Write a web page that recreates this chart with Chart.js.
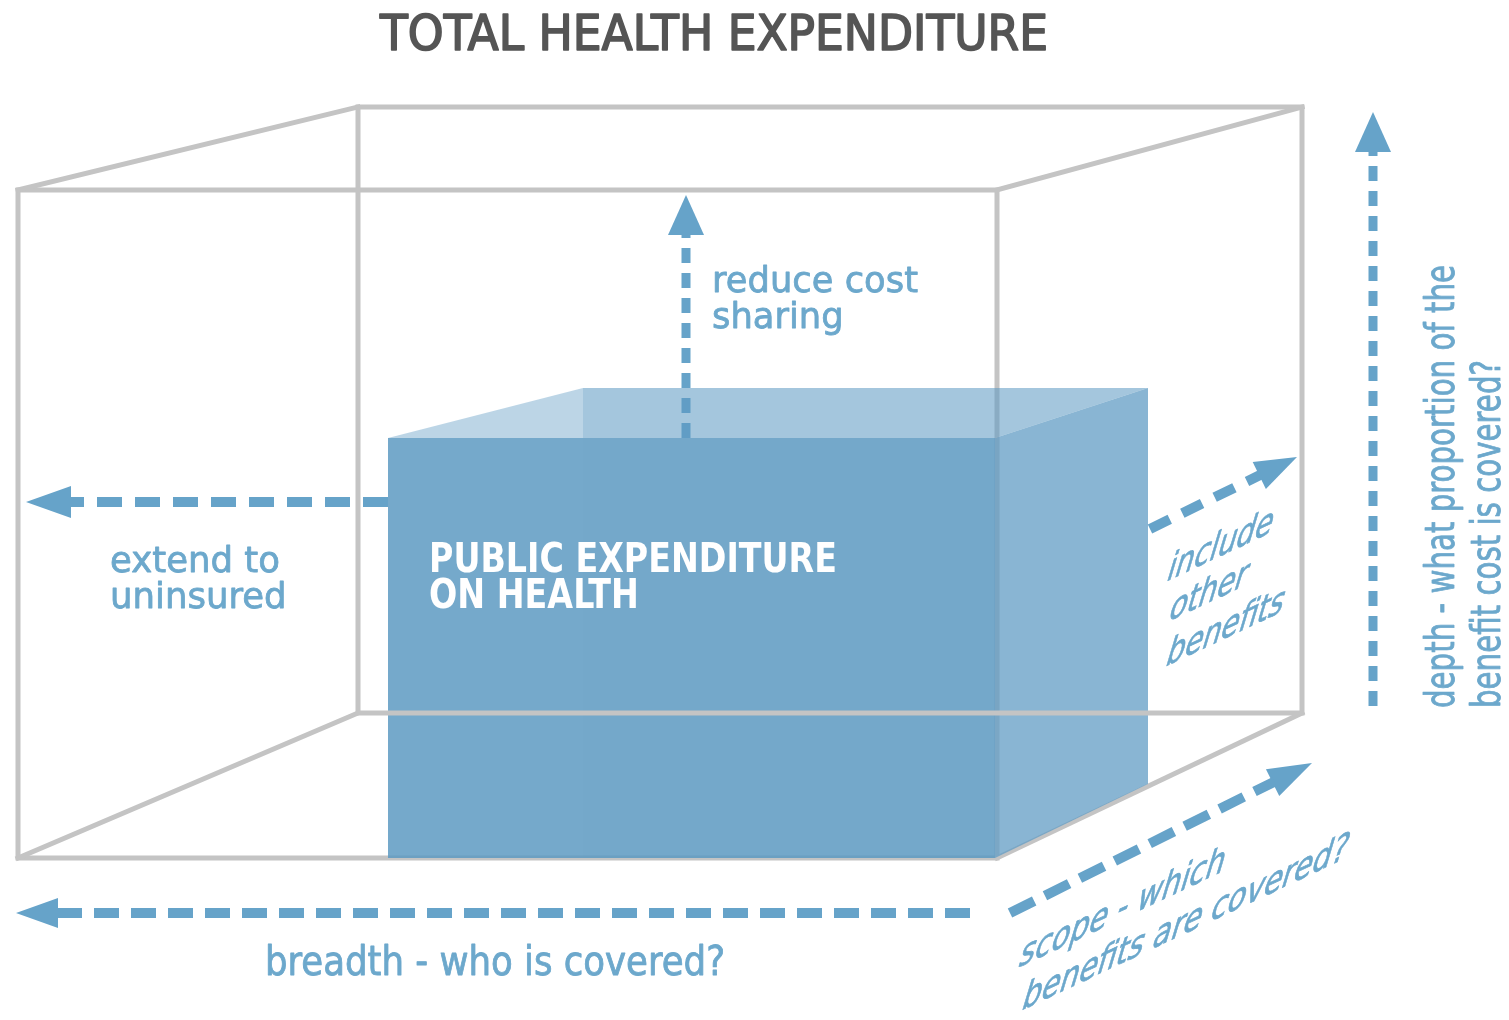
<!DOCTYPE html>
<html>
<head>
<meta charset="utf-8">
<title>Total health expenditure</title>
<script src="https://cdn.jsdelivr.net/npm/chart.js@4.4.1/dist/chart.umd.min.js"></script>
<style>
  html, body { margin: 0; padding: 0; background: #fff; overflow: hidden; }
  canvas { display: block; }
</style>
</head>
<body>
<canvas id="cube" width="1509" height="1020"></canvas>
<script>
// ---------- data (diagram units = picture pixels) ----------
const titleText     = 'TOTAL HEALTH EXPENDITURE';
const costText      = ['reduce cost', 'sharing'];
const uninsuredText = ['extend to', 'uninsured'];
const publicText    = ['PUBLIC EXPENDITURE', 'ON HEALTH'];
const benefitsText  = ['include', 'other', 'benefits'];
const breadthText   = ['breadth - who is covered?'];
const scopeText     = ['scope - which', 'benefits are covered?'];
const depthText     = ['depth - what proportion of the', 'benefit cost is covered?'];

// outer cube corners: top-left, top-right, bottom-right, bottom-left
const cubeFront = [[18, 190], [997, 190], [997, 858], [18, 858]];
const cubeBack  = [[358, 107], [1302, 107], [1302, 713], [358, 713]];

// public expenditure block faces
const boxFront   = [[388, 438], [995, 438], [995, 858], [388, 858]];
const boxShade   = [[583, 438], [995, 438], [995, 858], [583, 858]];
const boxTopNear = [[388, 438], [583, 388], [583, 438]];
const boxTopFar  = [[583, 388], [1148, 388], [995, 438], [583, 438]];
const boxSide    = [[995, 438], [1148, 388], [1148, 784], [995, 858]];
const boxSideLow = [[995, 713], [1148, 713], [1148, 784], [995, 858]];

// arrows: [start, tip]
const arrowCost      = [[686, 438], [686, 195]];
const arrowUninsured = [[388, 502], [26, 502]];
const arrowBenefits  = [[1150, 529], [1297, 457]];
const arrowBreadth   = [[970, 913], [16, 913]];
const arrowScope     = [[1010, 913], [1312, 763]];
const arrowDepth     = [[1373, 706], [1373, 112]];

// ---------- helpers ----------
const GRAY = '#c4c4c4';
const BLUE = '#66a3c9';
const TEXT_BLUE = '#6ca8cc';
const COND = "'DejaVu Sans Condensed', 'DejaVu Sans', sans-serif";
const REG = "'DejaVu Sans', Verdana, sans-serif";

const pts = (arr) => arr.map(([x, y]) => ({ x, y }));
const closed = (arr) => pts([...arr, arr[0]]);

function edge(data, color = GRAY, width = 5) {
  return { data, borderColor: color, borderWidth: width, showLine: true, fill: false,
           pointRadius: 0, borderCapStyle: 'square', borderJoinStyle: 'miter' };
}
function face(corners, color) {
  return { data: pts(corners), backgroundColor: color, borderColor: 'transparent', borderWidth: 0,
           showLine: true, fill: 'shape', pointRadius: 0 };
}
function arrow(a, head, dash, width) {
  const [[x0, y0], [x1, y1]] = a;
  const len = Math.hypot(x1 - x0, y1 - y0);
  const ux = (x1 - x0) / len, uy = (y1 - y0) / len;
  const bx = x1 - ux * head.len, by = y1 - uy * head.len;
  const px = -uy * head.w / 2, py = ux * head.w / 2;
  return [
    { data: pts([[x0, y0], [bx + ux * 2, by + uy * 2]]), borderColor: BLUE, borderWidth: width,
      borderDash: dash, borderCapStyle: 'butt', showLine: true, fill: false, pointRadius: 0 },
    face([[x1, y1], [bx + px, by + py], [bx - px, by - py]], BLUE)
  ];
}

// ---------- datasets (draw order matters) ----------
const datasets = [
  edge(closed(cubeBack)),
  face(boxFront, 'rgba(93,154,194,0.85)'),
  face(boxShade, 'rgba(40,100,150,0.04)'),
  face(boxTopNear, 'rgba(93,154,194,0.41)'),
  face(boxTopFar, 'rgba(93,154,194,0.56)'),
  face(boxSide, 'rgba(93,154,194,0.73)'),
  face(boxSideLow, 'rgba(255,255,255,0.1)'),
  ...cubeFront.map((p, i) => edge(pts([p, cubeBack[i]]))),
  edge(closed(cubeFront)),
  ...arrow(arrowCost, { len: 40, w: 36 }, [15, 10], 9),
  ...arrow(arrowUninsured, { len: 45, w: 32 }, [25, 13], 10),
  ...arrow(arrowBenefits, { len: 42, w: 30 }, [22, 14], 10),
  ...arrow(arrowBreadth, { len: 42, w: 30 }, [25, 12], 10),
  ...arrow(arrowScope, { len: 44, w: 30 }, [27, 12], 10),
  ...arrow(arrowDepth, { len: 40, w: 36 }, [15, 10], 9)
];

// ---------- text layout ----------
const labels = [
  { lines: [titleText], at: [[380, 50]], size: 50, family: COND, fit: 668, color: '#555555', stroke: 1.6 },
  { lines: costText, at: [[712, 292], [712, 328]], size: 36, family: REG, fit: 206, color: TEXT_BLUE, stroke: 0.8 },
  { lines: uninsuredText, at: [[110, 572], [110, 608]], size: 36, family: REG, fit: 170, color: TEXT_BLUE, stroke: 0.8 },
  { lines: publicText, at: [[429, 572], [429, 608]], size: 40, family: COND, weight: 'bold', fit: 408, color: '#ffffff' },
  { lines: benefitsText, at: [[1165, 582], [1167, 622], [1164, 667]], size: 40, family: REG, fit: 105, color: TEXT_BLUE, mode: 'slant', stroke: 0.8 },
  { lines: breadthText, at: [[265, 975]], size: 40, family: COND, fit: 460, color: TEXT_BLUE, stroke: 0.8 },
  { lines: scopeText, at: [[1017, 968], [1020, 1011]], size: 40, family: REG, fit: 205, color: TEXT_BLUE, mode: 'slant', stroke: 0.8 },
  { lines: depthText, at: [[1454, 708], [1500, 708]], size: 41, family: COND, fit: 443, color: TEXT_BLUE, mode: 'up', stroke: 0.8 }
];

const labelPlugin = {
  id: 'diagramLabels',
  afterDatasetsDraw(chart) {
    const { ctx, scales: { x, y } } = chart;
    labels.forEach(l => {
      ctx.save();
      ctx.font = `${l.weight || 'normal'} ${l.size}px ${l.family}`;
      ctx.fillStyle = l.color;
      ctx.strokeStyle = l.color;
      ctx.lineJoin = 'round';
      ctx.textBaseline = 'alphabetic';
      ctx.textAlign = 'left';
      const k = l.fit / ctx.measureText(l.lines[0]).width;
      l.lines.forEach((t, i) => {
        const [px, py] = l.at[i];
        ctx.save();
        ctx.translate(x.getPixelForValue(px), y.getPixelForValue(py));
        if (l.mode === 'up') ctx.rotate(-Math.PI / 2);
        if (l.mode === 'slant') ctx.transform(1, -0.47, -0.3, 1, 0, 0);
        ctx.scale(k, 1);
        ctx.fillText(t, 0, 0);
        if (l.stroke) {
          ctx.lineWidth = l.stroke;
          ctx.strokeText(t, 0, 0);
        }
        ctx.restore();
      });
      ctx.restore();
    });
  }
};

new Chart(document.getElementById('cube'), {
  type: 'scatter',
  data: { datasets },
  options: {
    responsive: false,
    animation: false,
    events: [],
    layout: { padding: 0 },
    plugins: { legend: { display: false }, tooltip: { enabled: false } },
    scales: {
      x: { type: 'linear', min: 0, max: 1509, display: false },
      y: { type: 'linear', min: 0, max: 1020, reverse: true, display: false }
    }
  },
  plugins: [labelPlugin]
});
</script>
</body>
</html>
